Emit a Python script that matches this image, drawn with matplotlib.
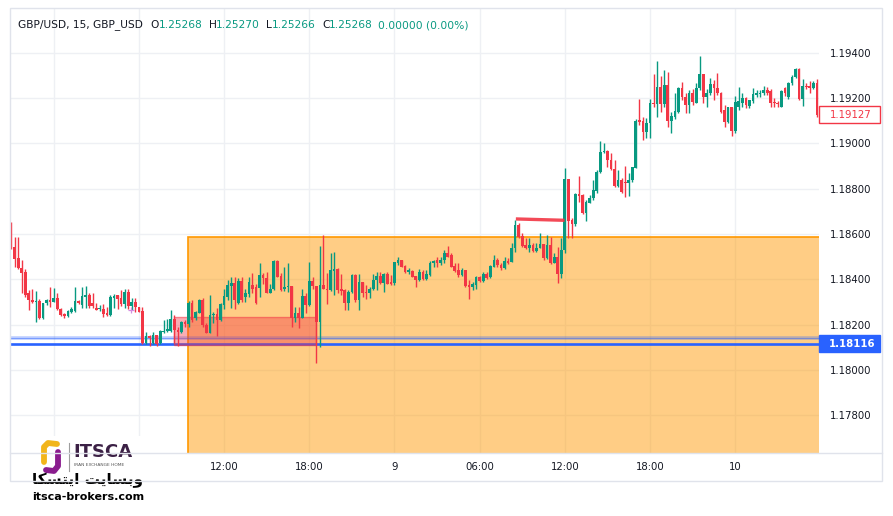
import matplotlib
matplotlib.use("Agg")
import matplotlib.pyplot as plt
from matplotlib.patches import Rectangle
from matplotlib.lines import Line2D
from matplotlib.transforms import blended_transform_factory
import numpy as np

# GBP/USD 15m candles, first bar = day 7 21:00
opens = [
    1.18633, 1.18545, 1.18493, 1.18452, 1.18434, 1.18338, 1.18309, 1.18300, 1.18305, 1.18228, 1.18294, 1.18309,
    1.18302, 1.18319, 1.18271, 1.18246, 1.18240, 1.18258, 1.18262, 1.18306, 1.18286, 1.18324, 1.18331, 1.18294,
    1.18275, 1.18269, 1.18269, 1.18253, 1.18243, 1.18319, 1.18331, 1.18319, 1.18290, 1.18344, 1.18284, 1.18300,
    1.18279, 1.18260, 1.18118, 1.18152, 1.18118, 1.18155, 1.18118, 1.18168, 1.18171, 1.18174, 1.18224, 1.18176,
    1.18169, 1.18213, 1.18203, 1.18297, 1.18228, 1.18253, 1.18309, 1.18201, 1.18165, 1.18243, 1.18247, 1.18221,
    1.18287, 1.18324, 1.18371, 1.18385, 1.18294, 1.18394, 1.18324, 1.18335, 1.18375, 1.18365, 1.18363, 1.18419,
    1.18405, 1.18341, 1.18356, 1.18483, 1.18415, 1.18356, 1.18368, 1.18371, 1.18228, 1.18250, 1.18232, 1.18327,
    1.18287, 1.18394, 1.18371, 1.18213, 1.18375, 1.18360, 1.18353, 1.18438, 1.18444, 1.18357, 1.18353, 1.18294,
    1.18346, 1.18419, 1.18309, 1.18390, 1.18346, 1.18341, 1.18360, 1.18397, 1.18415, 1.18385, 1.18423, 1.18390,
    1.18385, 1.18474, 1.18485, 1.18459, 1.18434, 1.18438, 1.18415, 1.18397, 1.18434, 1.18400, 1.18419, 1.18474,
    1.18488, 1.18474, 1.18488, 1.18518, 1.18507, 1.18460, 1.18441, 1.18419, 1.18441, 1.18375, 1.18368, 1.18375,
    1.18412, 1.18394, 1.18426, 1.18409, 1.18456, 1.18488, 1.18463, 1.18449, 1.18483, 1.18478, 1.18537, 1.18640,
    1.18592, 1.18552, 1.18540, 1.18552, 1.18527, 1.18537, 1.18556, 1.18493, 1.18552, 1.18474, 1.18498, 1.18424,
    1.18530, 1.18842, 1.18662, 1.18645, 1.18777, 1.18773, 1.18692, 1.18738, 1.18758, 1.18792, 1.18876, 1.18961,
    1.18967, 1.18927, 1.18886, 1.18813, 1.18839, 1.18832, 1.18827, 1.18839, 1.18893, 1.19102, 1.19099, 1.19052,
    1.19090, 1.19180, 1.19174, 1.19251, 1.19174, 1.19258, 1.19101, 1.19119, 1.19141, 1.19244, 1.19207, 1.19170,
    1.19225, 1.19180, 1.19244, 1.19307, 1.19207, 1.19222, 1.19263, 1.19244, 1.19225, 1.19148, 1.19097, 1.19160,
    1.19057, 1.19160, 1.19180, 1.19200, 1.19166, 1.19189, 1.19214, 1.19219, 1.19222, 1.19236, 1.19233, 1.19185,
    1.19180, 1.19163, 1.19244, 1.19203, 1.19266, 1.19295, 1.19329, 1.19195, 1.19254, 1.19254, 1.19244, 1.19266,
]
highs = [
    1.18655, 1.18589, 1.18586, 1.18486, 1.18444, 1.18353, 1.18356, 1.18350, 1.18313, 1.18298, 1.18312, 1.18365,
    1.18361, 1.18338, 1.18274, 1.18253, 1.18263, 1.18277, 1.18368, 1.18310, 1.18368, 1.18372, 1.18338, 1.18340,
    1.18294, 1.18287, 1.18290, 1.18279, 1.18331, 1.18334, 1.18331, 1.18353, 1.18356, 1.18356, 1.18316, 1.18316,
    1.18280, 1.18280, 1.18169, 1.18155, 1.18170, 1.18155, 1.18175, 1.18220, 1.18225, 1.18265, 1.18243, 1.18191,
    1.18216, 1.18220, 1.18304, 1.18309, 1.18260, 1.18312, 1.18316, 1.18206, 1.18331, 1.18257, 1.18276, 1.18295,
    1.18356, 1.18397, 1.18409, 1.18412, 1.18405, 1.18412, 1.18360, 1.18412, 1.18427, 1.18382, 1.18471, 1.18430,
    1.18434, 1.18378, 1.18488, 1.18486, 1.18430, 1.18456, 1.18471, 1.18371, 1.18279, 1.18279, 1.18356, 1.18338,
    1.18478, 1.18412, 1.18371, 1.18547, 1.18596, 1.18427, 1.18518, 1.18522, 1.18449, 1.18426, 1.18360, 1.18353,
    1.18426, 1.18426, 1.18426, 1.18390, 1.18375, 1.18368, 1.18426, 1.18434, 1.18434, 1.18429, 1.18434, 1.18419,
    1.18478, 1.18500, 1.18488, 1.18463, 1.18449, 1.18441, 1.18415, 1.18444, 1.18441, 1.18441, 1.18482, 1.18488,
    1.18497, 1.18497, 1.18532, 1.18547, 1.18515, 1.18474, 1.18474, 1.18449, 1.18441, 1.18397, 1.18390, 1.18415,
    1.18415, 1.18434, 1.18434, 1.18463, 1.18507, 1.18493, 1.18474, 1.18498, 1.18493, 1.18562, 1.18662, 1.18651,
    1.18604, 1.18581, 1.18581, 1.18562, 1.18559, 1.18606, 1.18556, 1.18596, 1.18586, 1.18518, 1.18545, 1.18581,
    1.18891, 1.18842, 1.18670, 1.18783, 1.18857, 1.18777, 1.18751, 1.18773, 1.18839, 1.18883, 1.19013, 1.19001,
    1.18972, 1.18957, 1.18927, 1.18883, 1.18846, 1.18901, 1.18869, 1.18898, 1.19110, 1.19195, 1.19118, 1.19111,
    1.19195, 1.19307, 1.19366, 1.19298, 1.19325, 1.19317, 1.19141, 1.19225, 1.19248, 1.19273, 1.19222, 1.19236,
    1.19241, 1.19269, 1.19387, 1.19307, 1.19239, 1.19288, 1.19281, 1.19313, 1.19229, 1.19170, 1.19163, 1.19163,
    1.19210, 1.19251, 1.19225, 1.19207, 1.19192, 1.19244, 1.19235, 1.19235, 1.19252, 1.19248, 1.19239, 1.19200,
    1.19187, 1.19236, 1.19248, 1.19273, 1.19303, 1.19332, 1.19332, 1.19283, 1.19266, 1.19278, 1.19278, 1.19283,
]
lows = [
    1.18535, 1.18456, 1.18445, 1.18338, 1.18324, 1.18265, 1.18294, 1.18213, 1.18225, 1.18225, 1.18287, 1.18280,
    1.18299, 1.18265, 1.18240, 1.18232, 1.18236, 1.18250, 1.18258, 1.18292, 1.18272, 1.18276, 1.18274, 1.18274,
    1.18264, 1.18260, 1.18235, 1.18237, 1.18240, 1.18275, 1.18268, 1.18282, 1.18272, 1.18268, 1.18265, 1.18257,
    1.18255, 1.18115, 1.18115, 1.18107, 1.18115, 1.18107, 1.18115, 1.18165, 1.18170, 1.18170, 1.18120, 1.18106,
    1.18165, 1.18190, 1.18191, 1.18213, 1.18223, 1.18250, 1.18191, 1.18162, 1.18162, 1.18206, 1.18150, 1.18218,
    1.18268, 1.18309, 1.18272, 1.18269, 1.18291, 1.18301, 1.18301, 1.18324, 1.18338, 1.18291, 1.18324, 1.18382,
    1.18338, 1.18338, 1.18353, 1.18409, 1.18350, 1.18350, 1.18346, 1.18188, 1.18213, 1.18187, 1.18228, 1.18250,
    1.18282, 1.18360, 1.18033, 1.18102, 1.18356, 1.18291, 1.18350, 1.18331, 1.18338, 1.18331, 1.18267, 1.18267,
    1.18338, 1.18301, 1.18267, 1.18323, 1.18312, 1.18316, 1.18353, 1.18353, 1.18382, 1.18346, 1.18379, 1.18375,
    1.18375, 1.18463, 1.18453, 1.18430, 1.18426, 1.18409, 1.18368, 1.18394, 1.18397, 1.18397, 1.18415, 1.18456,
    1.18456, 1.18463, 1.18474, 1.18497, 1.18453, 1.18434, 1.18412, 1.18415, 1.18368, 1.18313, 1.18353, 1.18360,
    1.18390, 1.18390, 1.18400, 1.18405, 1.18453, 1.18456, 1.18441, 1.18444, 1.18468, 1.18478, 1.18523, 1.18581,
    1.18542, 1.18533, 1.18523, 1.18523, 1.18521, 1.18537, 1.18486, 1.18489, 1.18468, 1.18471, 1.18383, 1.18405,
    1.18515, 1.18581, 1.18581, 1.18636, 1.18743, 1.18689, 1.18659, 1.18736, 1.18751, 1.18783, 1.18868, 1.18957,
    1.18898, 1.18883, 1.18810, 1.18810, 1.18783, 1.18762, 1.18768, 1.18832, 1.18890, 1.19080, 1.19016, 1.19023,
    1.19023, 1.19160, 1.19119, 1.19140, 1.19160, 1.19074, 1.19045, 1.19110, 1.19136, 1.19190, 1.19133, 1.19133,
    1.19170, 1.19177, 1.19238, 1.19180, 1.19160, 1.19216, 1.19192, 1.19214, 1.19136, 1.19074, 1.19090, 1.19033,
    1.19048, 1.19150, 1.19163, 1.19155, 1.19155, 1.19180, 1.19205, 1.19207, 1.19215, 1.19216, 1.19160, 1.19160,
    1.19160, 1.19160, 1.19210, 1.19195, 1.19258, 1.19290, 1.19192, 1.19166, 1.19240, 1.19222, 1.19240, 1.19119,
]
closes = [
    1.18540, 1.18490, 1.18449, 1.18430, 1.18331, 1.18309, 1.18300, 1.18306, 1.18228, 1.18294, 1.18309, 1.18302,
    1.18319, 1.18271, 1.18243, 1.18240, 1.18260, 1.18268, 1.18306, 1.18297, 1.18326, 1.18331, 1.18282, 1.18282,
    1.18266, 1.18272, 1.18248, 1.18245, 1.18324, 1.18328, 1.18313, 1.18293, 1.18343, 1.18282, 1.18300, 1.18277,
    1.18257, 1.18118, 1.18150, 1.18143, 1.18155, 1.18115, 1.18172, 1.18174, 1.18180, 1.18225, 1.18176, 1.18169,
    1.18213, 1.18203, 1.18297, 1.18223, 1.18257, 1.18309, 1.18198, 1.18165, 1.18243, 1.18247, 1.18221, 1.18291,
    1.18327, 1.18375, 1.18385, 1.18309, 1.18394, 1.18309, 1.18338, 1.18390, 1.18360, 1.18297, 1.18419, 1.18405,
    1.18341, 1.18356, 1.18483, 1.18412, 1.18353, 1.18368, 1.18370, 1.18228, 1.18250, 1.18231, 1.18327, 1.18287,
    1.18394, 1.18371, 1.18213, 1.18375, 1.18360, 1.18353, 1.18441, 1.18444, 1.18353, 1.18350, 1.18294, 1.18346,
    1.18419, 1.18309, 1.18390, 1.18338, 1.18341, 1.18360, 1.18397, 1.18415, 1.18385, 1.18423, 1.18382, 1.18382,
    1.18478, 1.18485, 1.18456, 1.18434, 1.18441, 1.18412, 1.18397, 1.18434, 1.18400, 1.18426, 1.18474, 1.18482,
    1.18474, 1.18488, 1.18518, 1.18500, 1.18456, 1.18438, 1.18419, 1.18441, 1.18371, 1.18368, 1.18382, 1.18412,
    1.18394, 1.18426, 1.18405, 1.18459, 1.18488, 1.18463, 1.18449, 1.18481, 1.18474, 1.18537, 1.18640, 1.18589,
    1.18548, 1.18540, 1.18552, 1.18527, 1.18537, 1.18556, 1.18493, 1.18552, 1.18474, 1.18498, 1.18424, 1.18530,
    1.18842, 1.18660, 1.18645, 1.18777, 1.18768, 1.18692, 1.18743, 1.18758, 1.18795, 1.18876, 1.18961, 1.18967,
    1.18927, 1.18886, 1.18813, 1.18839, 1.18788, 1.18827, 1.18839, 1.18895, 1.19101, 1.19094, 1.19052, 1.19092,
    1.19180, 1.19174, 1.19251, 1.19174, 1.19258, 1.19101, 1.19123, 1.19144, 1.19244, 1.19207, 1.19170, 1.19225,
    1.19185, 1.19244, 1.19307, 1.19207, 1.19222, 1.19263, 1.19244, 1.19222, 1.19141, 1.19097, 1.19160, 1.19057,
    1.19185, 1.19189, 1.19200, 1.19170, 1.19192, 1.19219, 1.19222, 1.19225, 1.19236, 1.19225, 1.19180, 1.19177,
    1.19175, 1.19233, 1.19222, 1.19266, 1.19295, 1.19329, 1.19195, 1.19254, 1.19248, 1.19244, 1.19266, 1.19127,
]

price_ticks = [1.178, 1.180, 1.182, 1.184, 1.186, 1.188, 1.190, 1.192, 1.194]
time_ticks = [12, 36, 60, 84, 108, 132, 156, 180, 204]
time_labels = ["8", "06:00", "12:00", "18:00", "9", "06:00", "12:00", "18:00", "10"]

# drawings on the chart
zone_left, zone_top = 49.8, 1.18589          # orange box, runs to the right edge
box_left, box_right = 45.9, 86.0              # red box
box_low, box_high = 1.18110, 1.18233
level_main = 1.18116
level_faint = 1.18140
seg_x = [142.2, 155.9]
seg_y = [1.18667, 1.18661]
last_price = 1.19127

UP, DOWN = "#089981", "#F23645"
BLUE = "#2962FF"
TXT = "#131722"
GRID = "#EEF0F4"

W, H = 893, 516
fig = plt.figure(figsize=(W / 100, H / 100), dpi=100)
fig.patch.set_facecolor("white")
ax = fig.add_axes([10 / W, 1 - 453 / H, 809 / W, 445 / H])

o = np.array(opens); c = np.array(closes)
hi = np.array(highs); lo = np.array(lows)
x = np.arange(len(c))
col = np.where(c >= o, UP, DOWN)

ax.set_xlim(-0.31, 227.6)
ax.set_ylim(1.17634, 1.19598)

for t in time_ticks:
    ax.axvline(t, color=GRID, lw=1, zorder=0)
for p in price_ticks:
    ax.axhline(p, color=GRID, lw=1, zorder=0)

ax.add_patch(Rectangle((zone_left, 1.170), 240 - zone_left, zone_top - 1.170,
                       fc=(1.0, 0.596, 0.0, 0.48), ec="#FF9800", lw=1.2, zorder=1))
ax.axhline(level_faint, color=BLUE, alpha=0.3, lw=2.6, zorder=2)
ax.axhline(level_faint, color=BLUE, alpha=0.45, lw=0.8, zorder=2)
ax.axhline(level_main, color=BLUE, lw=1.9, zorder=2)
ax.add_patch(Rectangle((box_left, box_low), box_right - box_left, box_high - box_low,
                       fc=(0.949, 0.212, 0.271, 0.4), ec=(0.949, 0.212, 0.271, 0.55),
                       lw=1, zorder=3))

ax.vlines(x, lo, hi, colors=col, lw=1.0, zorder=4)
body = np.maximum(np.abs(c - o), 0.00003)
ax.bar(x, body, bottom=np.minimum(o, c), width=0.76, color=col, lw=0, zorder=4)

ax.plot(seg_x, seg_y, color=DOWN, lw=2.4, alpha=0.9, solid_capstyle="butt", zorder=5)
ax.plot([33.8], [1.18265], marker="+", ms=4, mew=0.9, color="#D48CE0", zorder=5)

for s in ax.spines.values():
    s.set_visible(False)
ax.yaxis.tick_right()
ax.set_yticks(price_ticks)
ax.set_yticklabels([f"{p:.5f}" for p in price_ticks])
ax.set_xticks(time_ticks)
ax.set_xticklabels(time_labels)
ax.tick_params(axis="y", length=0, pad=8, labelsize=7.3, labelcolor=TXT)
ax.tick_params(axis="x", length=0, pad=6.8, labelsize=7.3, labelcolor=TXT)

# price labels on the scale
tr = blended_transform_factory(ax.transAxes, ax.transData)
lh = 0.00075
ax.add_patch(Rectangle((1.0, last_price - lh / 2), 61 / 809, lh, transform=tr,
                       fc="white", ec=DOWN, lw=1, clip_on=False, zorder=6))
ax.text(1.0 + 11 / 809, last_price, f"{last_price:.5f}", transform=tr, color=DOWN,
        fontsize=7.3, va="center", ha="left", zorder=7)
ax.add_patch(Rectangle((1.0, level_main - lh / 2), 61 / 809, lh, transform=tr,
                       fc=BLUE, ec=BLUE, lw=1, clip_on=False, zorder=6))
ax.text(1.0 + 10 / 809, level_main, f"{level_main:.5f}", transform=tr, color="white",
        fontsize=7.3, fontweight="bold", va="center", ha="left", zorder=7)

# chart frame
fig.add_artist(Rectangle((10 / W, 1 - 481 / H), 872 / W, 473 / H, transform=fig.transFigure,
                         fill=False, ec="#E0E3EB", lw=1))
fig.add_artist(Line2D([10 / W, 882 / W], [1 - 453 / H] * 2, transform=fig.transFigure,
                      color="#E0E3EB", lw=1))

# legend line at the top
def px(xp, yp):
    return xp / W, 1 - yp / H

hdr = [(18, "GBP/USD, 15, GBP_USD", TXT), (150, "O", TXT), (159, "1.25268", UP),
       (209, "H", TXT), (216, "1.25270", UP), (266, "L", TXT), (272, "1.25266", UP),
       (322, "C", TXT), (329, "1.25268", UP), (378, "0.00000 (0.00%)", UP)]
for xp, s, cc in hdr:
    fig.text(*px(xp, 25), s, color=cc, fontsize=7.7, va="center", ha="left")

# watermark logo bottom-left
lg = fig.add_axes([0, 0, 170 / W, 80 / H])
lg.set_xlim(0, 170)
lg.set_ylim(516, 436)
lg.axis("off")
lg.add_patch(Rectangle((0, 436), 170, 80, fc="white", ec="none"))
lg.plot([57, 48, 44, 44], [444, 443, 447, 462], color="#F2B51B", lw=4.2,
        solid_capstyle="round", solid_joinstyle="round")
lg.plot([58, 58, 54, 46], [452, 466, 471, 470], color="#8A1C8E", lw=4.2,
        solid_capstyle="round", solid_joinstyle="round")
lg.plot([69, 69], [443, 471], color="#9E9E9E", lw=0.8)
lg.text(73, 452, "ITSCA", fontsize=13, fontweight="bold", color="#3B2045",
        va="center", ha="left")
lg.text(74, 465, "IRAN EXCHANGE HOME", fontsize=3.2, color="#555555", va="center", ha="left")
# Persian "وبسایت ایتسکا" in shaped presentation forms, visual order
lg.text(88, 480, "\uFE8E\uFB91\uFEB4\uFE98\uFBFE\uFE8D \uFE96\uFBFE\uFE8E\uFEB4\uFE91\uFEED",
        fontsize=11, fontweight="bold", color="black", va="center", ha="center")
lg.text(88, 497, "itsca-brokers.com", fontsize=8, fontweight="bold", color="black",
        va="center", ha="center")

fig.savefig("out.png", dpi=100)
